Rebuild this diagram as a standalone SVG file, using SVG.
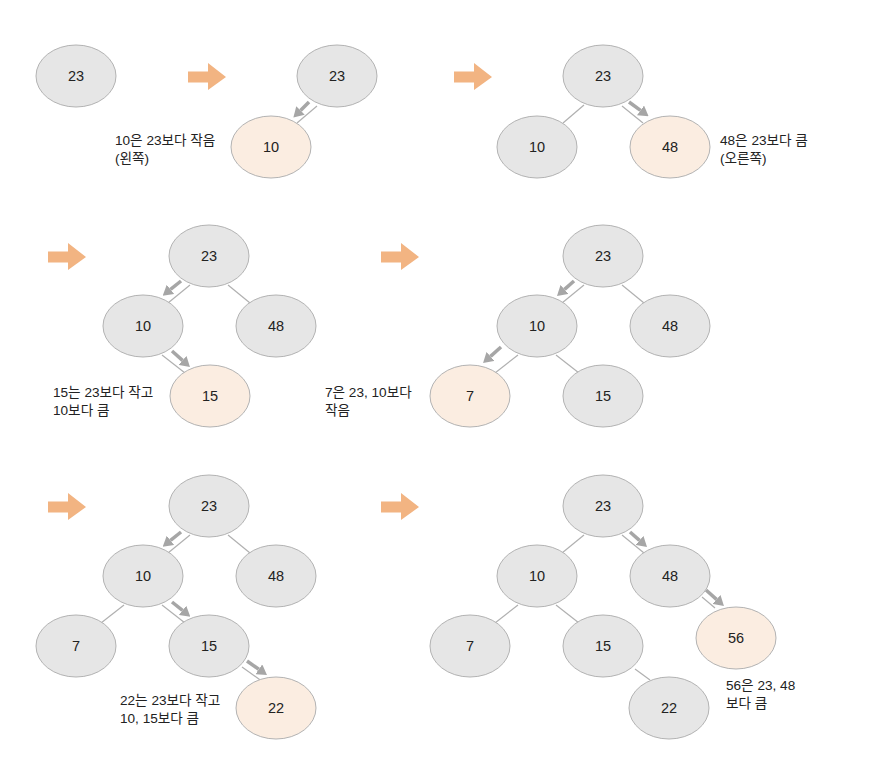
<svg xmlns="http://www.w3.org/2000/svg" width="891" height="764" viewBox="0 0 891 764">
<style>
.n{fill:#e6e6e6;stroke:#b3b3b3;stroke-width:1}
.h{fill:#fbede1;stroke:#b3b3b3;stroke-width:1}
.t{font-family:"Liberation Sans","Noto Sans CJK KR",sans-serif;font-size:14.5px;fill:#222;text-anchor:middle;dominant-baseline:central}
.a{font-family:"Liberation Sans","Noto Sans CJK KR",sans-serif;font-size:13.6px;fill:#222}
.l{stroke:#b0b0b0;stroke-width:1.2;fill:none}
.g{stroke:#a6a6a6;stroke-width:3.5;fill:none;marker-end:url(#ah)}
.o{fill:#f2b482}
</style>
<defs>
<marker id="ah" markerUnits="userSpaceOnUse" viewBox="0 -6 10 12" markerWidth="10" markerHeight="12" refX="0" refY="0" orient="auto">
<path d="M0,-6 L10,0 L0,6 z" fill="#a6a6a6"/>
</marker>
<symbol id="bigarrow" overflow="visible">
<path class="o" d="M0,-5.5 H20 V-14 L38,0 L20,13 V5.5 H0 z"/>
</symbol>
</defs>

<g id="steps">
<use href="#bigarrow" x="188" y="77"/>
<use href="#bigarrow" x="454" y="77"/>
<use href="#bigarrow" x="48" y="257"/>
<use href="#bigarrow" x="381" y="257"/>
<use href="#bigarrow" x="48" y="507"/>
<use href="#bigarrow" x="381" y="507"/>
</g>

<g id="connectors">
<line class="l" x1="317" y1="106" x2="297" y2="123"/>
<line class="l" x1="584" y1="105" x2="563" y2="123"/>
<line class="l" x1="622" y1="106" x2="643" y2="123"/>
<line class="l" x1="190" y1="285" x2="168" y2="303"/>
<line class="l" x1="228" y1="285" x2="250" y2="303"/>
<line class="l" x1="162" y1="355" x2="185" y2="373"/>
<line class="l" x1="584" y1="285" x2="562" y2="303"/>
<line class="l" x1="622" y1="285" x2="644" y2="303"/>
<line class="l" x1="518" y1="355" x2="495" y2="373"/>
<line class="l" x1="556" y1="355" x2="579" y2="373"/>
<line class="l" x1="190" y1="535" x2="168" y2="553"/>
<line class="l" x1="228" y1="535" x2="250" y2="553"/>
<line class="l" x1="124" y1="605" x2="101" y2="623"/>
<line class="l" x1="162" y1="605" x2="185" y2="623"/>
<line class="l" x1="242" y1="667" x2="263" y2="682"/>
<line class="l" x1="584" y1="535" x2="562" y2="553"/>
<line class="l" x1="622" y1="535" x2="644" y2="553"/>
<line class="l" x1="518" y1="605" x2="495" y2="623"/>
<line class="l" x1="556" y1="605" x2="579" y2="623"/>
<line class="l" x1="635" y1="669" x2="650" y2="680"/>
<line class="l" x1="702" y1="597" x2="715" y2="608"/>
<line class="g" x1="309" y1="102" x2="300.5" y2="110.4"/>
<line class="g" x1="629" y1="102" x2="640.5" y2="110.4"/>
<line class="g" x1="181" y1="281" x2="170.5" y2="289.4"/>
<line class="g" x1="172" y1="351" x2="182.5" y2="360.4"/>
<line class="g" x1="574" y1="281" x2="564.5" y2="289.4"/>
<line class="g" x1="501" y1="347" x2="490.5" y2="356.4"/>
<line class="g" x1="181" y1="532" x2="170.5" y2="540.4"/>
<line class="g" x1="172" y1="602" x2="182.5" y2="610.4"/>
<line class="g" x1="247" y1="661" x2="258.8" y2="669.3"/>
<line class="g" x1="630" y1="532" x2="639.5" y2="540.4"/>
<line class="g" x1="706" y1="590" x2="716.5" y2="599.4"/>
</g>

<g id="p1-23"><ellipse class="n" cx="76" cy="76" rx="40" ry="31"/><text class="t" x="76" y="76">23</text></g>

<g id="p2-23"><ellipse class="n" cx="337" cy="76" rx="40" ry="31"/><text class="t" x="337" y="76">23</text></g>
<g id="p2-10"><ellipse class="h" cx="271" cy="147" rx="40" ry="31"/><text class="t" x="271" y="147">10</text></g>
<text class="a" x="115" y="145">10은 23보다 작음</text>
<text class="a" x="115" y="163">(왼쪽)</text>

<g id="p3-23"><ellipse class="n" cx="603" cy="76" rx="40" ry="31"/><text class="t" x="603" y="76">23</text></g>
<g id="p3-10"><ellipse class="n" cx="537" cy="147" rx="40" ry="31"/><text class="t" x="537" y="147">10</text></g>
<g id="p3-48"><ellipse class="h" cx="670" cy="147" rx="40" ry="31"/><text class="t" x="670" y="147">48</text></g>
<text class="a" x="720" y="145">48은 23보다 큼</text>
<text class="a" x="720" y="163">(오른쪽)</text>

<g id="p4-23"><ellipse class="n" cx="209" cy="256" rx="40" ry="31"/><text class="t" x="209" y="256">23</text></g>
<g id="p4-10"><ellipse class="n" cx="143" cy="326" rx="40" ry="31"/><text class="t" x="143" y="326">10</text></g>
<g id="p4-48"><ellipse class="n" cx="276" cy="326" rx="40" ry="31"/><text class="t" x="276" y="326">48</text></g>
<g id="p4-15"><ellipse class="h" cx="210" cy="396" rx="40" ry="31"/><text class="t" x="210" y="396">15</text></g>
<text class="a" x="53" y="397">15는 23보다 작고</text>
<text class="a" x="53" y="415">10보다 큼</text>

<g id="p5-23"><ellipse class="n" cx="603" cy="256" rx="40" ry="31"/><text class="t" x="603" y="256">23</text></g>
<g id="p5-10"><ellipse class="n" cx="537" cy="326" rx="40" ry="31"/><text class="t" x="537" y="326">10</text></g>
<g id="p5-48"><ellipse class="n" cx="670" cy="326" rx="40" ry="31"/><text class="t" x="670" y="326">48</text></g>
<g id="p5-7"><ellipse class="h" cx="470" cy="396" rx="40" ry="31"/><text class="t" x="470" y="396">7</text></g>
<g id="p5-15"><ellipse class="n" cx="603" cy="396" rx="40" ry="31"/><text class="t" x="603" y="396">15</text></g>
<text class="a" x="325" y="397">7은 23, 10보다</text>
<text class="a" x="325" y="415">작음</text>

<g id="p6-23"><ellipse class="n" cx="209" cy="506" rx="40" ry="31"/><text class="t" x="209" y="506">23</text></g>
<g id="p6-10"><ellipse class="n" cx="143" cy="576" rx="40" ry="31"/><text class="t" x="143" y="576">10</text></g>
<g id="p6-48"><ellipse class="n" cx="276" cy="576" rx="40" ry="31"/><text class="t" x="276" y="576">48</text></g>
<g id="p6-7"><ellipse class="n" cx="76" cy="646" rx="40" ry="31"/><text class="t" x="76" y="646">7</text></g>
<g id="p6-15"><ellipse class="n" cx="209" cy="646" rx="40" ry="31"/><text class="t" x="209" y="646">15</text></g>
<g id="p6-22"><ellipse class="h" cx="276" cy="708" rx="40" ry="31"/><text class="t" x="276" y="708">22</text></g>
<text class="a" x="120" y="705">22는 23보다 작고</text>
<text class="a" x="120" y="723">10, 15보다 큼</text>

<g id="p7-23"><ellipse class="n" cx="603" cy="506" rx="40" ry="31"/><text class="t" x="603" y="506">23</text></g>
<g id="p7-10"><ellipse class="n" cx="537" cy="576" rx="40" ry="31"/><text class="t" x="537" y="576">10</text></g>
<g id="p7-48"><ellipse class="n" cx="670" cy="576" rx="40" ry="31"/><text class="t" x="670" y="576">48</text></g>
<g id="p7-7"><ellipse class="n" cx="470" cy="646" rx="40" ry="31"/><text class="t" x="470" y="646">7</text></g>
<g id="p7-15"><ellipse class="n" cx="603" cy="646" rx="40" ry="31"/><text class="t" x="603" y="646">15</text></g>
<g id="p7-22"><ellipse class="n" cx="669" cy="708" rx="40" ry="31"/><text class="t" x="669" y="708">22</text></g>
<g id="p7-56"><ellipse class="h" cx="736" cy="638" rx="40" ry="31"/><text class="t" x="736" y="638">56</text></g>
<text class="a" x="726" y="690">56은 23, 48</text>
<text class="a" x="726" y="708">보다 큼</text>
</svg>
